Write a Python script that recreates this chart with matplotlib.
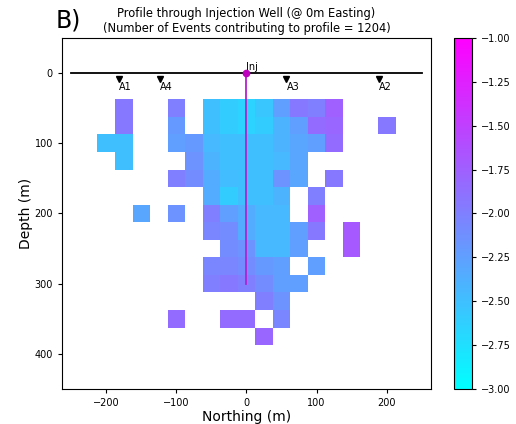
import numpy as np
import matplotlib.pyplot as plt

# grid cell centres (m)
northing = np.arange(-200, 201, 25)
depth = np.arange(50, 376, 25)

n = np.nan
# mean magnitude per cell, one row per depth
mag = np.array([
    [n, -1.95, n, n, -2.0, n, -2.5, -2.6, -2.65, -2.55, -2.25, -1.95, -2.0, -1.75, n, n, n],
    [n, -1.95, n, n, -2.2, n, -2.5, -2.6, -2.65, -2.6, -2.4, -2.25, -1.85, -1.8, n, n, -1.95],
    [-2.5, -2.5, n, n, -2.25, -2.2, -2.45, -2.5, -2.5, -2.5, -2.4, -2.3, -2.25, -1.85, n, n, n],
    [n, -2.5, n, n, n, -2.15, -2.4, -2.5, -2.5, -2.5, -2.45, -2.3, n, n, n, n, n],
    [n, n, n, n, -2.0, -2.1, -2.35, -2.48, -2.5, -2.5, -2.15, -2.3, n, -1.95, n, n, n],
    [n, n, n, n, n, n, -2.35, -2.6, -2.5, -2.5, -2.4, n, -2.0, n, n, n, n],
    [n, n, -2.3, n, -2.15, n, -2.0, -2.25, -2.35, -2.45, -2.45, n, -1.75, n, n, n, n],
    [n, n, n, n, n, n, -2.05, -2.1, -2.35, -2.45, -2.45, -2.25, -1.95, n, -1.7, n, n],
    [n, n, n, n, n, n, n, -2.1, -2.15, -2.45, -2.45, -2.25, n, n, -1.7, n, n],
    [n, n, n, n, n, n, -2.05, -2.05, -2.1, -2.2, -2.25, n, -2.25, n, n, n, n],
    [n, n, n, n, n, n, -2.0, -1.95, -2.0, -2.1, -2.25, -2.25, n, n, n, n, n],
    [n, n, n, n, n, n, n, n, n, -2.0, -2.15, n, n, n, n, n, n],
    [n, n, n, n, -1.85, n, n, -1.85, -1.85, n, -2.05, n, n, n, n, n, n],
    [n, n, n, n, n, n, n, n, n, -1.8, n, n, n, n, n, n, n],
])

stations = ['A1', 'A4', 'A3', 'A2']
station_x = [-182, -124, 57, 189]
well_bottom = 300
n_events = 1204

fig = plt.figure(figsize=(5.16, 4.24), dpi=100)
ax = fig.add_axes([0.1202, 0.0825, 0.715, 0.828])
cax = fig.add_axes([0.880, 0.0825, 0.0349, 0.828])

mesh = ax.pcolormesh(northing, depth, np.ma.masked_invalid(mag), cmap='cool',
                     vmin=-3, vmax=-1, shading='nearest')

ax.plot([-250, 250], [0, 0], color='k', lw=1.3)
ax.plot([0, 0], [0, well_bottom], color='#b521d0', lw=1.3)
ax.plot(0, 0, 'o', color='m', ms=4.5)
ax.text(0, -2, 'Inj', fontsize=7, ha='left', va='bottom')
ax.plot(station_x, [9] * len(station_x), 'kv', ms=4.5)
for name, x in zip(stations, station_x):
    ax.text(x, 13, name, fontsize=7, ha='left', va='top')

ax.set_xlim(-263, 263)
ax.set_ylim(450, -50)
ax.set_xlabel('Northing (m)', fontsize=10, labelpad=1.5)
ax.set_ylabel('Depth (m)', fontsize=10, labelpad=1)
ax.set_xticks([-200, -100, 0, 100, 200])
ax.tick_params(labelsize=7, length=3)
ax.set_title('Profile through Injection Well (@ 0m Easting)\n'
             f'(Number of Events contributing to profile = {n_events})',
             fontsize=8.3, pad=4, linespacing=1.25)
fig.text(0.108, 0.935, 'B)', fontsize=17)

cb = fig.colorbar(mesh, cax=cax)
cb.set_label('Magnitude', fontsize=10)
cb.ax.tick_params(labelsize=7, length=3)

fig.savefig('out.png', dpi=100)
